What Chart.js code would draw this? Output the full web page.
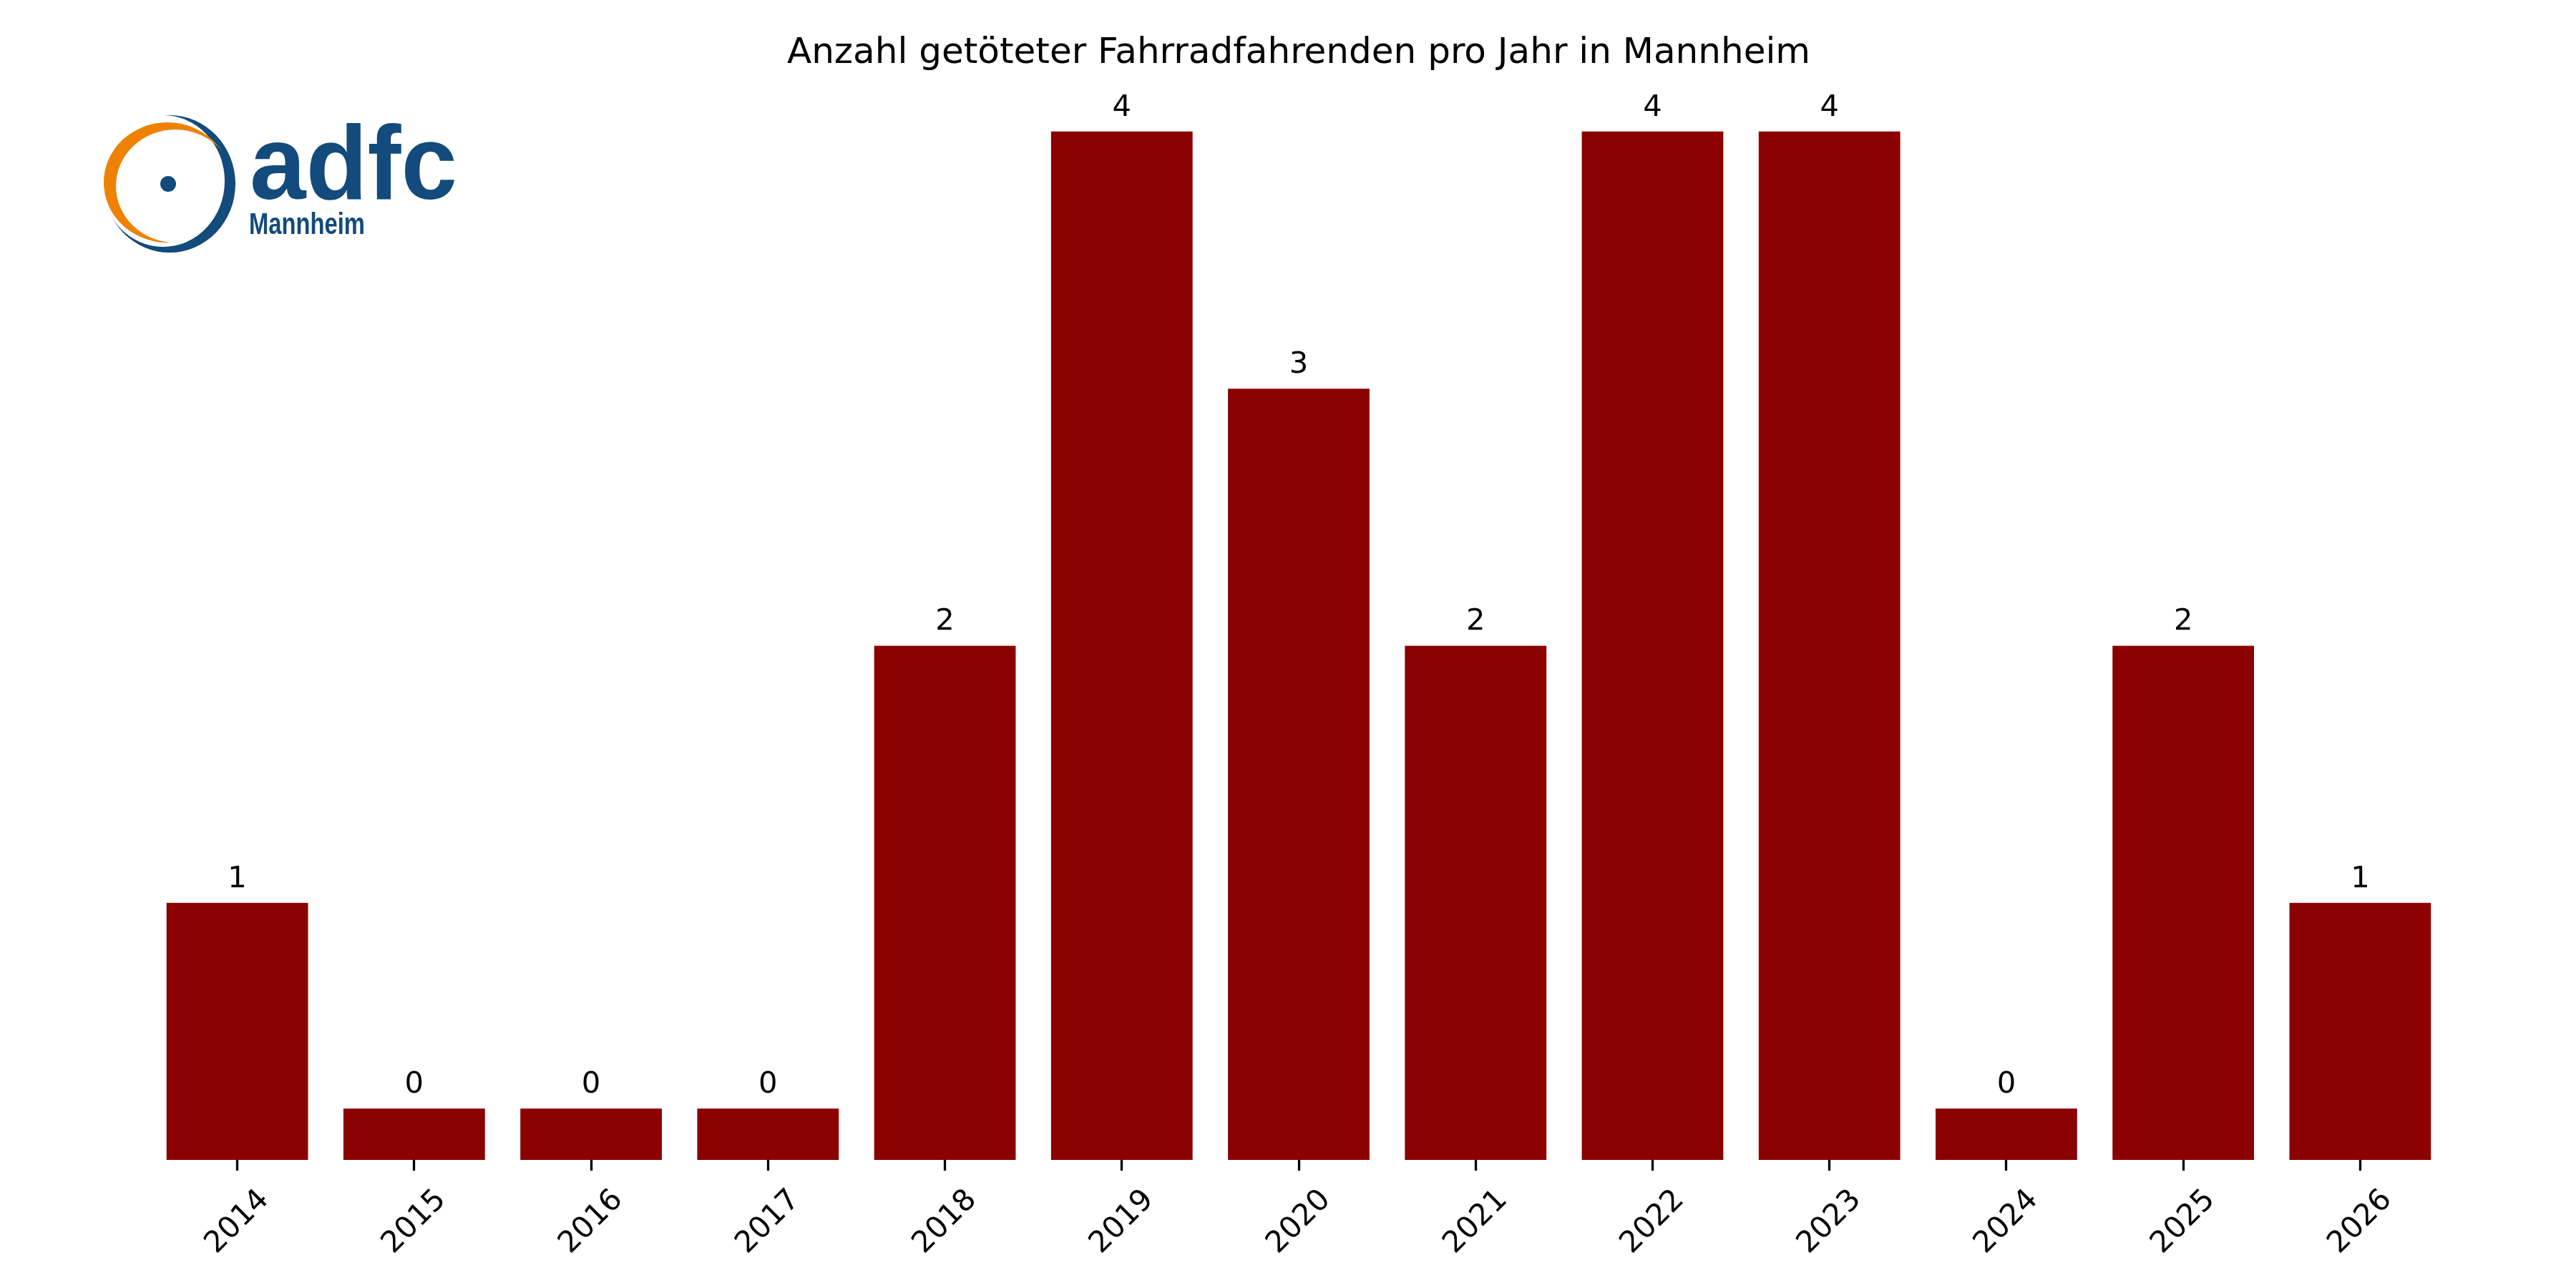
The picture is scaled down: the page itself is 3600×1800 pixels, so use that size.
<!DOCTYPE html>
<html lang="de">
<head>
<meta charset="utf-8">
<title>Getötete Fahrradfahrende Mannheim</title>
<script src="https://cdn.jsdelivr.net/npm/chart.js@4.4.1/dist/chart.umd.min.js"></script>
<style>
    html, body { margin: 0; padding: 0; background: #fff; }
    #wrap { position: relative; width: 3600px; height: 1800px; }
    #logo { position: absolute; left: 0; top: 0; }
</style>
</head>
<body>
<div id="wrap">
    <canvas id="chart" width="3600" height="1800"></canvas>
    <!-- ADFC Mannheim logo -->
    <svg id="logo" width="700" height="400" viewBox="0 0 700 400">
        <defs>
            <mask id="blueCut">
                <rect x="0" y="0" width="700" height="400" fill="#fff"/>
                <ellipse cx="228" cy="253" rx="86" ry="92" fill="#000"/>
            </mask>
            <mask id="orangeCut">
                <rect x="0" y="0" width="700" height="400" fill="#fff"/>
                <ellipse cx="245" cy="260" rx="83" ry="79" fill="#000"/>
            </mask>
        </defs>
        <ellipse cx="237" cy="257" rx="92" ry="96" fill="#124b7c" mask="url(#blueCut)"/>
        <ellipse cx="234" cy="255" rx="89" ry="84" fill="#ee8100" mask="url(#orangeCut)"/>
        <circle cx="235" cy="257" r="11" fill="#124b7c"/>
        <text x="349" y="278" font-family="Liberation Sans, Arial, sans-serif" font-weight="bold"
              font-size="146" fill="#124b7c" textLength="290" lengthAdjust="spacingAndGlyphs">adfc</text>
        <text x="348" y="327" font-family="Liberation Sans Narrow, Liberation Sans, sans-serif" font-weight="bold"
              font-size="43" fill="#124b7c" textLength="162" lengthAdjust="spacingAndGlyphs">Mannheim</text>
    </svg>
</div>
<script>
// Data
const years = ['2014', '2015', '2016', '2017', '2018', '2019', '2020',
               '2021', '2022', '2023', '2024', '2025', '2026'];
const deaths = [1, 0, 0, 0, 2, 4, 3, 2, 4, 4, 0, 2, 1];
// drawn bar heights (years without deaths get a small stub bar)
const barHeights = [1, 0.2, 0.2, 0.2, 2, 4, 3, 2, 4, 4, 0.2, 2, 1];
const yMax = 4.2;

const titleText = 'Anzahl getöteter Fahrradfahrenden pro Jahr in Mannheim';
const barColor = '#8b0000';

// Value labels above the bars
const valueLabels = {
    id: 'valueLabels',
    afterDatasetsDraw(chart) {
        const ctx = chart.ctx;
        const meta = chart.getDatasetMeta(0);
        ctx.save();
        ctx.font = '41.67px "DejaVu Sans"';
        ctx.fillStyle = '#000';
        ctx.textAlign = 'center';
        ctx.textBaseline = 'alphabetic';
        meta.data.forEach((bar, i) => {
            ctx.fillText(String(deaths[i]), bar.x, bar.y - 22);
        });
        ctx.restore();
    }
};

new Chart(document.getElementById('chart'), {
    type: 'bar',
    data: {
        labels: years,
        datasets: [{
            data: barHeights,
            backgroundColor: barColor,
            borderWidth: 0,
            barPercentage: 0.8,
            categoryPercentage: 1.0
        }]
    },
    options: {
        responsive: false,
        devicePixelRatio: 1,
        animation: false,
        layout: {
            padding: { left: 208, right: 178, top: 0, bottom: 0 }
        },
        plugins: {
            legend: { display: false },
            tooltip: { enabled: false },
            title: {
                display: true,
                text: titleText,
                color: '#000',
                font: { family: 'DejaVu Sans', size: 50, weight: 'normal', lineHeight: 1.2 },
                padding: { top: 45, bottom: 7 }
            }
        },
        scales: {
            x: {
                offset: true,
                border: { display: false },
                grid: {
                    display: true,
                    offset: false,
                    drawOnChartArea: false,
                    drawTicks: true,
                    tickLength: 15,
                    tickWidth: 3.3,
                    tickColor: '#000'
                },
                ticks: {
                    color: '#000',
                    font: { family: 'DejaVu Sans', size: 41.67 },
                    minRotation: 45,
                    maxRotation: 45,
                    autoSkip: false,
                    padding: 17,
                    labelOffset: 38
                },
                afterFit(scale) {
                    scale.height = 179;
                }
            },
            y: {
                display: false,
                min: 0,
                max: yMax
            }
        }
    },
    plugins: [valueLabels]
});
</script>
</body>
</html>
